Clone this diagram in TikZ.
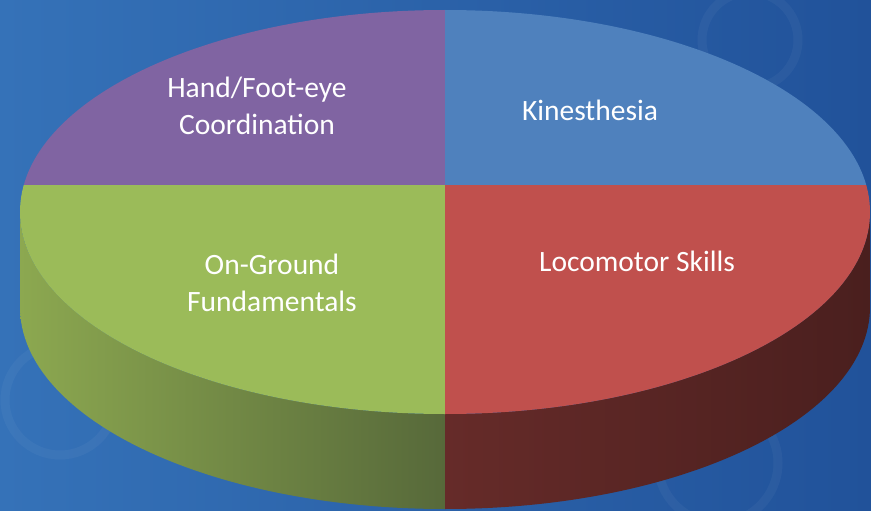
\documentclass[tikz,border=0pt]{standalone}
\usepackage{fontspec}
\setmainfont{Carlito}
\definecolor{bgleft}{HTML}{3572B8}
\definecolor{bgright}{HTML}{21529A}
\definecolor{qpurple}{HTML}{8064A2}
\definecolor{qblue}{HTML}{4F81BD}
\definecolor{qgreen}{HTML}{9BBB59}
\definecolor{qred}{HTML}{C0504D}
\definecolor{gsideA}{HTML}{8CA850}
\definecolor{gsideB}{HTML}{57693A}
\definecolor{rsideA}{HTML}{662B29}
\definecolor{rsideB}{HTML}{4A1F1E}

\begin{document}
\begin{tikzpicture}[x=1pt, y=1pt,
    lbl/.style={text=white, align=center, font=\fontsize{29.5}{37}\selectfont},
    ring/.style={draw=white, draw opacity=0.04, line width=9pt}]
  % background
  \useasboundingbox (0,0) rectangle (871,-511);
  \shade[left color=bgleft, right color=bgright] (0,0) rectangle (871,-511);
  \draw[ring] (750,-40) circle (48);
  \draw[ring] (718,-463) circle (60);
  \draw[ring] (60,-400) circle (55);

  % sides of the pie
  \shade[left color=gsideA, right color=gsideB]
    (20,-212) arc[start angle=180, end angle=270, x radius=425, y radius=202]
    -- (445,-509) arc[start angle=270, end angle=180, x radius=425, y radius=202]
    -- cycle;
  \shade[left color=rsideA, right color=rsideB]
    (445,-414) arc[start angle=270, end angle=360, x radius=425, y radius=202]
    -- (870,-307) arc[start angle=0, end angle=-90, x radius=425, y radius=202]
    -- cycle;

  % top face, four quarters
  \begin{scope}
    \clip (445,-212) ellipse[x radius=425, y radius=202];
    \fill[qpurple] (0,0) rectangle (445,-185);
    \fill[qblue] (445,0) rectangle (871,-185);
    \fill[qgreen] (0,-185) rectangle (445,-511);
    \fill[qred] (445,-185) rectangle (871,-511);
  \end{scope}

  \node[lbl] (hfe) at (257,-106) {Hand/Foot-eye\\Coordination};
  \node[lbl] (kin) at (590,-110) {Kinesthesia};
  \node[lbl] (ogf) at (272,-283) {On-Ground\\Fundamentals};
  \node[lbl] (loc) at (637,-261) {Locomotor Skills};
\end{tikzpicture}
\end{document}
